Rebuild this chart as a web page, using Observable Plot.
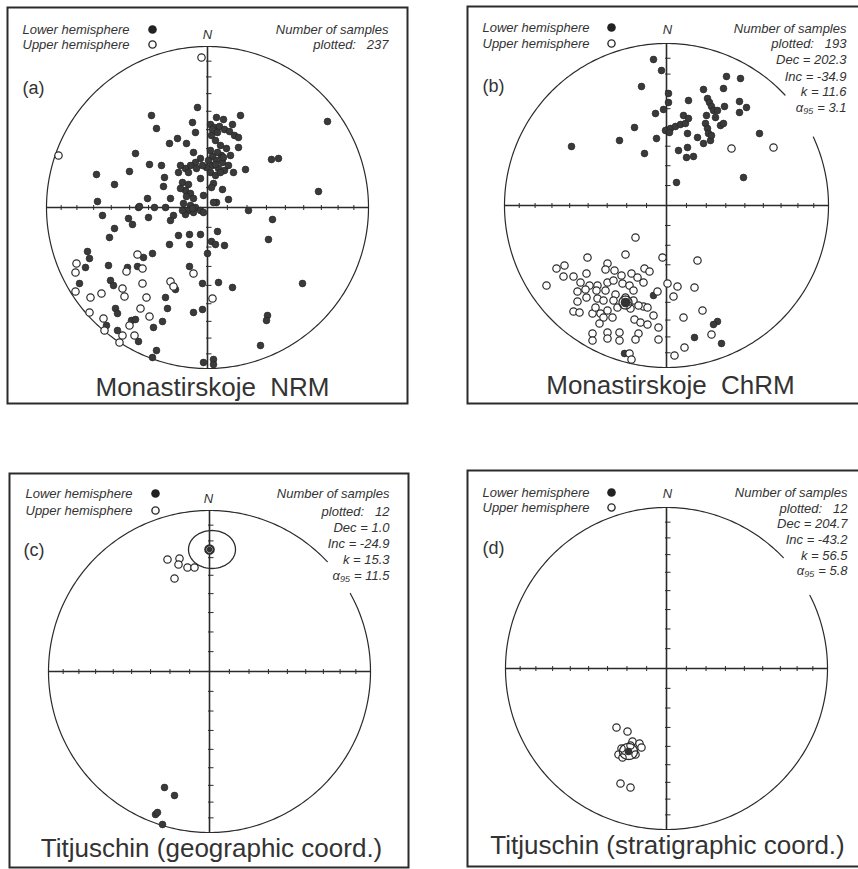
<!DOCTYPE html>
<html><head><meta charset="utf-8">
<script src="https://cdn.jsdelivr.net/npm/d3@7"></script>
<script src="https://cdn.jsdelivr.net/npm/@observablehq/plot@0.6"></script>
<style>
html,body{margin:0;padding:0;background:#fff;}
#page{position:relative;width:858px;height:869px;overflow:hidden;background:#fff;}
</style></head><body><div id="page"></div>
<script>
// Sample directions, as [east, north] offsets on the
// equal-area net, in units where the net radius = r of the panel below.
const nrmLower = [[-10,100],[-56,92],[-51,79],[-15,85],[33,92],[9,90],[16,88],[25,83],[120,86],[-30,69],[-38,64],[-21,64],[-12,75],[-72,54],[-58,43],[-46,42],[-78,36],[-111,33],[-93,23],[-110,6],[-43,30],[-44,21],[-60,9],[-37,9],[-69,0],[-53,0],[-42,0],[64,48],[71,49],[111,16],[38,38],[26,35],[31,60],[-14,55],[-7,29],[6,24],[15,18],[21,8],[9,5],[4,20],[-4,12],[41,-3],
[3,83],[7,80],[12,81],[17,78],[22,76],[27,72],[31,70],[4,72],[8,67],[13,62],[19,59],[23,52],[5,78],[10,75],
[3,57],[5,51],[9,47],[15,45],[5,42],[11,39],[17,37],[3,35],[8,32],[14,52],[21,42],[1,47],[-1,40],[10,55],[16,50],[8,43],[13,35],
[-7,49],[-12,45],[-17,42],[-22,39],[-27,42],[-29,35],[-19,35],[-11,39],[-5,42],
[-25,25],[-19,23],[-22,17],[-17,14],[-14,9],[-21,11],[-27,19],
[-24,4],[-17,2],[-12,0],[-7,-3],[-19,-3],[-14,-5],[-22,-7],
[-105,-8],[-79,-11],[-75,-17],[-59,-10],[-68,1],[-34,-8],[-37,-13],[-25,-3],[-15,-1],[-4,-5],[6,5],[65,-12],[-93,-21],[-98,-30],[-29,-28],[-18,-27],[-7,-27],[10,-24],[-38,-37],[-18,-37],[4,-34],[8,-37],[17,-38],[61,-32],[0,-46],[-120,-44],[-118,-51],[-55,-46],[-64,-50],[-122,-60],[-99,-58],[-80,-60],[-70,-59],[-18,-59],[-128,-76],[-97,-73],[-94,-78],[-5,-76],[11,-75],[25,-80],[95,-76],[-32,-82],[-42,-90],[-40,-101],[-14,-105],[-5,-102],[-92,-101],[-90,-106],[60,-108],[59,-113],[-76,-113],[-72,-112],[-45,-114],[-54,-120],[-101,-118],[-90,-123],[-69,-134],[53,-138],[-51,-143],[-55,-150],[-4,-155],[6,-152],[6,-157]];
const nrmUpper = [[-6,150],[-149,52],[-70,-47],[-131,-56],[-132,-65],[-81,-64],[-65,-61],[-14,-66],[-65,-76],[-37,-74],[-34,-79],[-85,-81],[-132,-84],[-117,-90],[-106,-86],[-83,-89],[-61,-90],[5,-91],[-118,-105],[-67,-101],[-58,-109],[-104,-111],[-78,-118],[-103,-123],[-85,-128],[-73,-128],[-88,-135]];

const chrmLower = [[-13,146],[-5,135],[-25,119],[60,129],[74,127],[37,116],[57,117],[2,112],[2,103],[22,105],[73,104],[58,99],[80,98],[73,93],[-3,96],[-11,92],[-32,78],[-47,65],[-95,59],[-22,52],[-10,67],[93,72],[77,28],[10,23],
[-1,75],[4,77],[9,79],[14,81],[19,82],[17,90],[22,87],[41,107],[43,103],[45,99],[47,95],[39,82],[41,77],[42,72],[44,65],[21,72],[12,55],[21,58],[31,68],[37,62],[20,48],[27,49],[49,88],[54,80],[51,95],[57,82],[3,73],[40,90],[45,70],
[-13,-90],[51,-116],[47,-119],[28,-132],[55,-138],[-42,-148]];
const chrmUpper = [[65,57],[107,58],[-31,-32],[-79,-52],[-41,-49],[-4,-52],[31,-55],[-110,-63],[-102,-60],[-103,-71],[-93,-71],[-80,-68],[-59,-58],[-61,-64],[-52,-65],[-45,-70],[-35,-68],[-29,-72],[-22,-63],[-17,-66],[-120,-80],[-86,-77],[-77,-80],[-69,-80],[-59,-77],[-53,-75],[-44,-78],[-37,-80],[-23,-77],[1,-78],[11,-81],[28,-82],[-9,-86],[7,-91],[-89,-86],[-81,-84],[-70,-85],[-61,-85],[-51,-89],[-33,-85],[-89,-96],[-80,-92],[-69,-93],[-63,-95],[-53,-95],[-41,-92],[-33,-95],[-23,-101],[-93,-106],[-87,-107],[-74,-108],[-66,-108],[-59,-105],[-49,-102],[-36,-103],[-28,-100],[-19,-102],[-13,-110],[-71,-102],[-63,-112],[-54,-112],[36,-105],[17,-112],[-32,-114],[-26,-117],[-19,-119],[-67,-118],[-8,-122],[-74,-128],[-74,-135],[-59,-127],[-59,-133],[-47,-127],[-47,-135],[-28,-128],[-31,-134],[-8,-134],[45,-129],[18,-142],[8,-150],[-37,-148],[-35,-154]];

const geoLower = [[-45,-116],[-35,-124],[-54,-143],[-52,-141],[-47,-153]];
const geoUpper = [[-42,112],[-30,113],[-31,107],[-22,104],[-15,104],[-35,93],[0,122]];

const stratLower = [];
const stratUpper = [[-50,-59],[-39,-63],[-34,-73],[-27,-75],[-25,-79],[-45,-80],[-48,-86],[-44,-89],[-31,-86],[-36,-77],[-46,-115],[-36,-119]];

// mean directions and alpha95 outline semi-axes (same units)
const meanE = [null, -41, 0, -38];
const meanN = [null, -97, 122, -83];
const a95E  = [null, -41, 2.5, -38];
const a95N  = [null, -97, 122, -83];
const a95A  = [null, 6.5, 23.5, 9];
const a95B  = [null, 6.5, 19, 8];

// texts
const panelLabels = ["(a)", "(b)", "(c)", "(d)"];
const panelTitles = ["Monastirskoje  NRM", "Monastirskoje  ChRM", "Titjuschin (geographic coord.)", "Titjuschin (stratigraphic coord.)"];
const statsA = ["Number of samples", "plotted:   237"];
const statsB = ["Number of samples", "plotted:   193", "Dec = 202.3", "Inc = -34.9", "k = 11.6", "α₉₅ = 3.1"];
const statsC = ["Number of samples", "plotted:   12", "Dec = 1.0", "Inc = -24.9", "k = 15.3", "α₉₅ = 11.5"];
const statsD = ["Number of samples", "plotted:   12", "Dec = 204.7", "Inc = -43.2", "k = 56.5", "α₉₅ = 5.8"];
const legendLabels = ["Lower hemisphere", "Upper hemisphere"];
const tickInclinations = [10, 20, 30, 40, 50, 60, 70, 80];

// layout
const W = 858, H = 869;
const panels = [
  {cx:207, cy:207, r:161, frame:[7,7,407,403], gap:null, lower:nrmLower, upper:nrmUpper, stats:statsA,
   legX:22, legY:[29,44], legDotX:152, nPos:[207,34], statX:388, statY:[29,44], labPos:[22,88], titlePos:[212,387]},
  {cx:666, cy:205, r:162, frame:[467,6,864,403], gap:[47,65], lower:chrmLower, upper:chrmUpper, stats:statsB,
   legX:482, legY:[27,43], legDotX:611, nPos:[667,29], statX:846, statY:[28,43,59,76,91,107], labPos:[482,86], titlePos:[670,385]},
  {cx:209, cy:671, r:161, frame:[9,473,408,867], gap:[47,61], lower:geoLower, upper:geoUpper, stats:statsC,
   legX:25, legY:[493,510], legDotX:155, nPos:[208,498], statX:389, statY:[493,511,527,543,559,575], labPos:[23,550], titlePos:[211,848]},
  {cx:666, cy:668, r:161, frame:[467,470,864,866], gap:[46.5,63], lower:stratLower, upper:stratUpper, stats:statsD,
   legX:482, legY:[492,507], legDotX:611, nPos:[667,493], statX:847, statY:[492,508,523,539,555,570], labPos:[482,548], titlePos:[667,845]}
];

const INK = "#2b2b2b";
const FONT = "Liberation Sans, Arial, Helvetica, sans-serif";
const rad = d => d * Math.PI / 180;

panels.forEach((p, i) => {
  const {cx, cy, r} = p;
  const [fl, ft, fr, fb] = p.frame;
  const at = (X, Y) => ({e: X - cx, n: cy - Y});
  // primitive circle
  const circ = [];
  for (let a = 0; a <= 360; a += 1) {
    if (p.gap && a > p.gap[0] && a < p.gap[1]) continue;
    circ.push({e: r * Math.sin(rad(a)), n: r * Math.cos(rad(a)), seg: p.gap && a >= p.gap[1] ? 1 : 0});
  }
  if (p.gap) {
    circ.splice(circ.findIndex(d => d.seg === 1), 0,
      {e: r*Math.sin(rad(p.gap[0])), n: r*Math.cos(rad(p.gap[0])), seg: 0},
      {e: r*Math.sin(rad(p.gap[1])), n: r*Math.cos(rad(p.gap[1])), seg: 1});
  }
  const tickD = tickInclinations.flatMap(inc => {
    const d = Math.SQRT2 * Math.sin(rad((90 - inc) / 2)) * r;
    return [d, -d];
  });
  const lower = p.lower.map(([e, n]) => ({e, n}));
  const upper = p.upper.map(([e, n]) => ({e, n}));
  const marks = [
    Plot.frame({stroke: INK, strokeWidth: 2}),
    Plot.line(circ, {x: "e", y: "n", z: "seg", stroke: INK, strokeWidth: 1.2}),
    Plot.link([{x1: -r, y1: 0, x2: r, y2: 0}, {x1: 0, y1: -r, x2: 0, y2: r}],
      {x1: "x1", y1: "y1", x2: "x2", y2: "y2", stroke: INK, strokeWidth: 1.6}),
    Plot.link(tickD, {x1: d => d, x2: d => d, y1: -2.5, y2: 2.5, stroke: INK, strokeWidth: 1}),
    Plot.link(tickD, {y1: d => d, y2: d => d, x1: -1.5, x2: 4, stroke: INK, strokeWidth: 1}),
    Plot.dot(lower, {x: "e", y: "n", r: 3.4, fill: "#3a3a3a", stroke: "#222", strokeWidth: 0.6}),
    Plot.dot(upper, {x: "e", y: "n", r: 3.7, fill: "white", stroke: INK, strokeWidth: 1.2}),
  ];
  if (meanE[i] !== null) {
    const ell = d3.range(0, 361, 5).map(a => ({e: a95E[i] + a95A[i] * Math.cos(rad(a)), n: a95N[i] + a95B[i] * Math.sin(rad(a))}));
    marks.push(Plot.line(ell, {x: "e", y: "n", stroke: INK, strokeWidth: 1.3}));
    marks.push(Plot.dot([{e: meanE[i], n: meanN[i]}], {x: "e", y: "n", r: i === 2 ? 4.5 : 0, fill: "none", stroke: INK, strokeWidth: 1.6}));
    marks.push(Plot.dot([{e: meanE[i], n: meanN[i]}], {x: "e", y: "n", r: i === 1 ? 4.8 : (i === 3 ? 3.8 : 2.8), fill: "#333"}));
  }
  // legend
  const legend = legendLabels.map((t, k) => ({...at(p.legX, p.legY[k]), t}));
  marks.push(Plot.text(legend, {x: "e", y: "n", text: "t", textAnchor: "start", lineAnchor: "middle", fontSize: 13, fontStyle: "italic", fontFamily: FONT, fill: "#333"}));
  marks.push(Plot.dot([at(p.legDotX, p.legY[0])], {x: "e", y: "n", r: 4.3, fill: "#222"}));
  marks.push(Plot.dot([at(p.legDotX, p.legY[1])], {x: "e", y: "n", r: 3.6, fill: "white", stroke: INK, strokeWidth: 1.4}));
  marks.push(Plot.text([{...at(p.nPos[0], p.nPos[1]), t: "N"}], {x: "e", y: "n", text: "t", textAnchor: "middle", lineAnchor: "middle", fontSize: 13, fontStyle: "italic", fontFamily: FONT, fill: "#333"}));
  const stats = p.stats.map((t, k) => ({...at(p.statX, p.statY[k]), t}));
  marks.push(Plot.text(stats, {x: "e", y: "n", text: "t", textAnchor: "end", lineAnchor: "middle", fontSize: 13, fontStyle: "italic", fontFamily: FONT, fill: "#333"}));
  marks.push(Plot.text([{...at(p.labPos[0], p.labPos[1]), t: panelLabels[i]}], {x: "e", y: "n", text: "t", textAnchor: "start", lineAnchor: "middle", fontSize: 18, fontFamily: FONT, fill: "#333"}));
  marks.push(Plot.text([{...at(p.titlePos[0], p.titlePos[1]), t: panelTitles[i]}], {x: "e", y: "n", text: "t", textAnchor: "middle", lineAnchor: "middle", fontSize: 26, fontFamily: FONT, fill: "#333"}));

  const svg = Plot.plot({
    width: W, height: H,
    marginLeft: fl, marginTop: ft, marginRight: W - fr, marginBottom: H - fb,
    x: {domain: [-r, r], range: [cx - r, cx + r], axis: null},
    y: {domain: [-r, r], range: [cy + r, cy - r], axis: null},
    style: {background: "transparent", overflow: "hidden", position: "absolute", left: "0px", top: "0px", maxWidth: "none"},
    marks
  });
  document.getElementById("page").appendChild(svg);
});
</script>
</body></html>
